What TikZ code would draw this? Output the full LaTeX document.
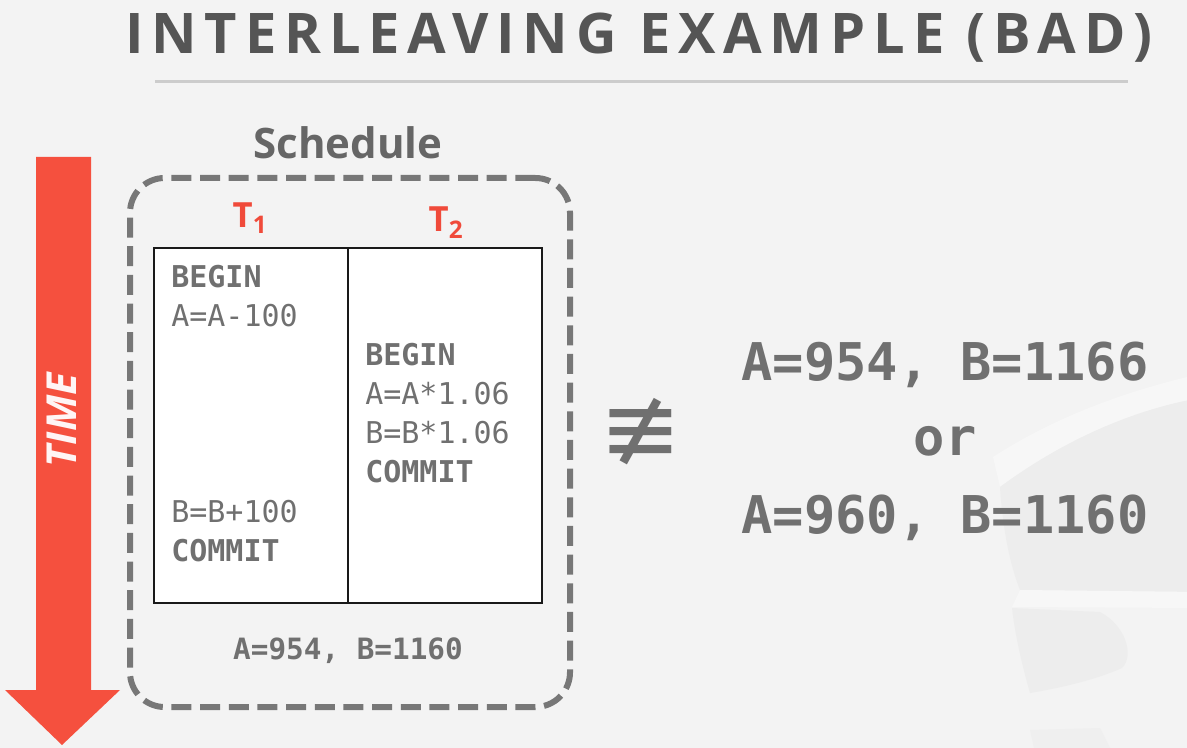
\documentclass[tikz,border=0pt]{standalone}
\usepackage{fontspec}
\setmainfont{Open Sans}
\setmonofont{DejaVu Sans Mono}
\newfontfamily\titlefont[LetterSpace=14]{Open Sans}
\newfontfamily\symbolfont{DejaVu Sans}
\usetikzlibrary{positioning}

\definecolor{slidebg}{RGB}{243,243,243}
\definecolor{titlegray}{RGB}{85,85,85}
\definecolor{rulegray}{RGB}{204,204,204}
\definecolor{framegray}{RGB}{119,119,119}
\definecolor{codegray}{RGB}{112,112,112}
\definecolor{txnred}{RGB}{240,74,58}
\definecolor{timered}{RGB}{245,80,62}
\definecolor{cyldark}{RGB}{237,237,237}
\definecolor{cyllight}{RGB}{247,247,247}

\begin{document}
\begin{tikzpicture}[x=0.75pt,y=-0.75pt,
    slidetitle/.style={font=\titlefont\bfseries\fontsize{42}{50}\selectfont, text=titlegray, inner sep=0, anchor=base},
    schedlabel/.style={font=\bfseries\fontsize{31.5}{36}\selectfont, text=titlegray!90, inner sep=0, anchor=base},
    txnlabel/.style={font=\bfseries\fontsize{26}{30}\selectfont, text=txnred, inner sep=0, anchor=base},
    schedframe/.style={draw=framegray, line width=4.5pt, dash pattern=on 15pt off 6.5pt, rounded corners=26pt,
      minimum width=330pt, minimum height=396.75pt},
    colbox/.style={draw=black!90, fill=white, line width=1.5pt, minimum width=145.5pt, minimum height=266.25pt,
      inner sep=0, outer sep=0},
    codeline/.style={font=\ttfamily\fontsize{22.5}{27}\selectfont, text=codegray, inner sep=0, anchor=base west,
      text height=17pt, text depth=5pt},
    codekw/.style={codeline, font=\ttfamily\bfseries\fontsize{22.5}{27}\selectfont},
    result/.style={font=\ttfamily\bfseries\fontsize{39}{46}\selectfont, text=codegray, inner sep=0, anchor=base},
    timelabel/.style={font=\bfseries\itshape\fontsize{31}{36}\selectfont, text=white!96!red, inner sep=0}
  ]
  \useasboundingbox (0,0) rectangle (1187,748);
  \fill[slidebg] (0,0) rectangle (1187,748);

  % Background database watermark
  \begin{scope}
    \clip (0,0) rectangle (1187,748);
    \fill[cyllight] (993,457) .. controls (1050,420) and (1120,392) .. (1200,374) -- (1200,398)
      .. controls (1120,412) and (1050,450) .. (1000,487) -- cycle;
    \fill[cyldark] (1000,487) .. controls (1050,450) and (1120,412) .. (1200,398) -- (1200,592)
      -- (1020,590) .. controls (1008,560) and (1002,520) .. cycle;
    \fill[cyllight] (1020,590) -- (1200,592) -- (1200,608) -- (1012,607) -- cycle;
    \fill[cyldark] (1012,608) -- (1100,612) .. controls (1125,625) and (1135,655) .. (1122,668)
      .. controls (1095,680) and (1060,688) .. (1030,693) .. controls (1022,665) and (1015,635) .. cycle;
    \fill[cyldark!60!slidebg] (1030,730) -- (1100,728) -- (1110,748) -- (1034,748) -- cycle;
  \end{scope}

  % Title
  \node[slidetitle] (title) at (639,54) {INTERLEAVING EXAMPLE (BAD)};
  \draw[rulegray, line width=2.25pt] (155,82) -- (1128,82);

  % Time arrow
  \fill[timered] (36,157) -- (91,157) -- (91,690) -- (120,690) -- (62,745) -- (5,690) -- (36,690) -- cycle;
  \node[timelabel, rotate=90] (time) at (62,420) {TIME};

  % Schedule
  \node[schedframe] (frame) at (350,442.5) {};
  \node[schedlabel] (sched) at (348,159) {Schedule};
  \node[colbox] (col1) at (251,425.5) {};
  \node[colbox, right=0pt of col1] (col2) {};
  \node[txnlabel] (t1) at (250,228) {T\textsubscript{1}};
  \node[txnlabel] (t2) at (446,232) {T\textsubscript{2}};

  % T1 operations
  \node[codekw] (b1) at (171,287) {BEGIN};
  \node[codeline] (a1) at (171,326) {A=A-100};
  \node[codeline] (w1) at (171,522) {B=B+100};
  \node[codekw] (c1) at (171,561) {COMMIT};

  % T2 operations
  \node[codekw] (b2) at (365,365) {BEGIN};
  \node[codeline] (a2) at (365,404) {A=A*1.06};
  \node[codeline] (w2) at (365,443) {B=B*1.06};
  \node[codekw] (c2) at (365,482) {COMMIT};

  \node[result, font=\ttfamily\bfseries\fontsize{22}{26}\selectfont] (final) at (348,659) {A=954, B=1160};

  % Comparison
  \node[text=codegray, inner sep=0, font=\symbolfont\fontsize{74}{78}\selectfont] (neq) at (641,432) {≢};
  \node[result] (r1) at (945,380) {A=954, B=1166};
  \node[result] (r2) at (945,455) {or};
  \node[result] (r3) at (945,533) {A=960, B=1160};
\end{tikzpicture}
\end{document}
